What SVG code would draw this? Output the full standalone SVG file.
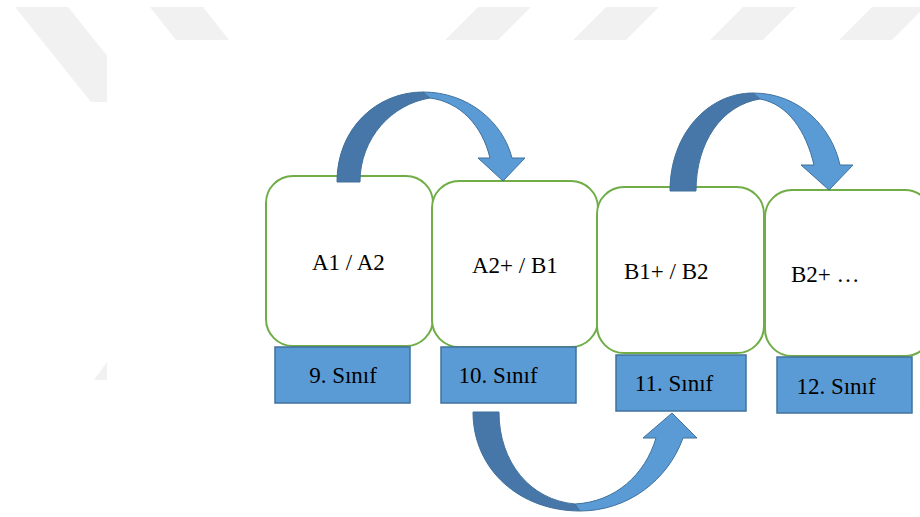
<svg xmlns="http://www.w3.org/2000/svg" width="920" height="517" viewBox="0 0 920 517">
  <style>
    .wm { fill: #f1f1f1; }
    .node rect.box { fill: #ffffff; stroke: #70ad47; stroke-width: 2; }
    .label { font-family: "Liberation Serif", "Times New Roman", serif; font-size: 23px; fill: #000000; }
    .grade rect { fill: #5b9bd5; stroke: #41719c; stroke-width: 1.5; }
    .dark { fill: #4677a8; stroke: #41719c; stroke-width: 1; }
    .light { fill: #5b9bd5; stroke: #41719c; stroke-width: 1; }
  </style>
  <rect x="0" y="0" width="920" height="517" fill="#ffffff"/>
  <g id="watermark">
    <polygon class="wm" points="15,7 68,7 144,102 91,102"/>
    <polygon class="wm" points="150,7 203,7 229,40 176,40"/>
    <polygon class="wm" points="478,7 531,7 498,40 445,40"/>
    <polygon class="wm" points="606,7 659,7 626,40 573,40"/>
    <polygon class="wm" points="743,7 796,7 763,40 710,40"/>
    <polygon class="wm" points="872,7 925,7 892,40 839,40"/>
    <polygon class="wm" points="107,362 107,380 94,380"/>
    <rect x="107" y="40" width="813" height="477" fill="#ffffff"/>
  </g>

  <g id="node-a1a2" class="node">
    <rect class="box" x="266" y="176" width="167" height="170" rx="27" ry="27"/>
    <text class="label" x="312" y="270">A1 / A2</text>
  </g>
  <g id="node-a2b1" class="node">
    <rect class="box" x="432" y="181" width="166" height="166" rx="27" ry="27"/>
    <text class="label" x="472" y="273">A2+ / B1</text>
  </g>
  <g id="node-b1b2" class="node">
    <rect class="box" x="597" y="187" width="167" height="166" rx="27" ry="27"/>
    <text class="label" x="624" y="279">B1+ / B2</text>
  </g>
  <g id="node-b2" class="node">
    <rect class="box" x="765" y="190" width="167" height="166" rx="27" ry="27"/>
    <text class="label" x="791" y="282">B2+ …</text>
  </g>

  <g id="grade-9" class="grade">
    <rect x="275" y="347" width="135" height="56"/>
    <text class="label" x="343" y="383" text-anchor="middle">9. Sınıf</text>
  </g>
  <g id="grade-10" class="grade">
    <rect x="441" y="347" width="135" height="56"/>
    <text class="label" x="498" y="383" text-anchor="middle">10. Sınıf</text>
  </g>
  <g id="grade-11" class="grade">
    <rect x="616" y="355" width="130" height="56"/>
    <text class="label" x="674" y="391" text-anchor="middle">11. Sınıf</text>
  </g>
  <g id="grade-12" class="grade">
    <rect x="777" y="357" width="135" height="56"/>
    <text class="label" x="836" y="394" text-anchor="middle">12. Sınıf</text>
  </g>

  <g id="connectors">
    <g id="arrow-1">
      <path class="dark" d="M337,182 C337,128 377,92 423,92 L430,98 C392,104 360,138 360,182 Z"/>
      <path class="light" d="M423,92 C468,92 503,122 512,158 L525,158 L503,181 L478,158 L490,158 C482,125 460,102 430,98 Z"/>
    </g>
    <g id="arrow-2">
      <path class="dark" d="M670,191 C670,134 708,93 753,93 L760,99 C722,105 696,142 696,191 Z"/>
      <path class="light" d="M753,93 C800,93 832,128 840,165 L853,165 L829,190 L801,165 L814,165 C806,131 788,104 760,99 Z"/>
    </g>
    <g id="arrow-3">
      <path class="dark" d="M473,412 C473,470 520,511 580,511 L575,504 C530,500 499,462 499,412 Z"/>
      <path class="light" d="M580,511 C628,511 668,480 683,438 L697,438 L672,413 L643,438 L656,438 C645,475 615,502 575,504 Z"/>
    </g>
  </g>
</svg>
